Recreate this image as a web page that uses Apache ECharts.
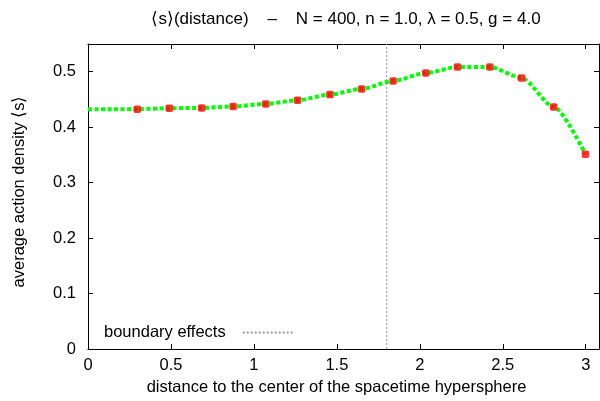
<!DOCTYPE html>
<html>
<head>
<meta charset="utf-8">
<script src="https://cdn.jsdelivr.net/npm/echarts@6/dist/echarts.min.js"></script>
<style>html,body{margin:0;padding:0;background:#fff}#c{width:600px;height:401px}</style>
</head>
<body>
<div id="c"></div>
<script>
// Measured data (red points)
const distances = [0.297, 0.490, 0.685, 0.875, 1.071, 1.263, 1.458, 1.649, 1.839, 2.036, 2.227, 2.422, 2.613, 2.807, 2.998];
const densities = [0.4324, 0.4342, 0.4348, 0.4373, 0.4420, 0.4486, 0.4589, 0.4690, 0.4834, 0.4978, 0.5086, 0.5086, 0.4888, 0.4366, 0.3514];
// Green curve start (read at left edge)
const curveStartX = [0, 0.15];
const curveStartY = [0.4322, 0.4323];
const boundaryX = 1.8;
const xTicks = [0, 0.5, 1, 1.5, 2, 2.5, 3];
const yTicks = [0, 0.1, 0.2, 0.3, 0.4, 0.5];

const FONT = 'Liberation Sans, Arial, sans-serif';
const FS = 16.5;
const pts = distances.map((d, i) => [d, densities[i]]);
const curve = curveStartX.map((x, i) => [x, curveStartY[i]]).concat(pts);

const chart = echarts.init(document.getElementById('c'), null, {renderer: 'canvas'});
const baseX = {
  type: 'value', min: 0, max: 3.08, interval: 0.5,
  splitLine: {show: false},
  axisLine: {show: true, onZero: false, lineStyle: {color: '#000', width: 1}},
  axisTick: {show: true, inside: true, length: 5, lineStyle: {color: '#000'}},
};
const baseY = {
  type: 'value', min: 0, max: 0.55, interval: 0.1,
  splitLine: {show: false},
  axisLine: {show: true, onZero: false, lineStyle: {color: '#000', width: 1}},
  axisTick: {show: true, inside: true, length: 5, lineStyle: {color: '#000'}},
};
chart.setOption({
  animation: false,
  backgroundColor: '#fff',
  textStyle: {fontFamily: FONT},
  title: {
    text: '⟨s⟩(distance)    –    N = 400, n = 1.0, λ = 0.5, g = 4.0',
    left: 341, top: 6, textAlign: 'center',
    textStyle: {fontFamily: FONT, fontSize: 17, fontWeight: 'normal', color: '#000'}
  },
  grid: {left: 88, top: 44, right: 1, bottom: 52, containLabel: false},
  xAxis: [
    Object.assign({}, baseX, {position: 'bottom',
      axisLabel: {show: true, margin: 8, fontFamily: FONT, fontSize: FS, color: '#000', showMaxLabel: false,
        formatter: v => xTicks.includes(Math.round(v * 100) / 100) ? String(v) : ''},
      name: 'distance to the center of the spacetime hypersphere', nameLocation: 'middle', nameGap: 30,
      nameTextStyle: {fontFamily: FONT, fontSize: FS, color: '#000', padding: [0, 14, 0, 0]}
    }),
    Object.assign({}, baseX, {position: 'top', axisLabel: {show: false}})
  ],
  yAxis: [
    Object.assign({}, baseY, {position: 'left',
      axisLabel: {show: true, margin: 12, fontFamily: FONT, fontSize: FS, color: '#000', showMaxLabel: false,
        formatter: v => yTicks.includes(Math.round(v * 100) / 100) ? String(v) : ''},
      name: 'average action density ⟨s⟩', nameLocation: 'middle', nameGap: 60,
      nameTextStyle: {fontFamily: FONT, fontSize: FS, color: '#000', padding: [0, 0, 0, 10]}
    }),
    Object.assign({}, baseY, {position: 'right', axisLabel: {show: false}})
  ],
  legend: {
    data: ['boundary effects'], left: 99, top: 319, align: 'right',
    itemWidth: 50, itemHeight: 16, itemGap: 0,
    itemStyle: {opacity: 0},
    textStyle: {fontFamily: FONT, fontSize: FS, color: '#000', padding: [0, 12, 0, 0]},
    selectedMode: false
  },
  series: [
    {
      name: 'boundary effects', type: 'line', symbol: 'none', silent: true,
      data: [[boundaryX, 0], [boundaryX, 0.55]],
      itemStyle: {color: '#999'},
      lineStyle: {color: '#999', width: 1, type: [2, 2]}, z: 1
    },
    {
      name: 'curve', type: 'line', symbol: 'none', smooth: 0.25, smoothMonotone: 'x',
      data: curve,
      lineStyle: {color: '#00ff00', width: 4, type: [4, 2.5]}, z: 2
    },
    {
      name: 'points', type: 'scatter', symbol: 'roundRect', symbolSize: 7.5,
      data: pts, itemStyle: {color: '#ff0000'}, z: 3
    }
  ]
});
</script>
</body>
</html>
